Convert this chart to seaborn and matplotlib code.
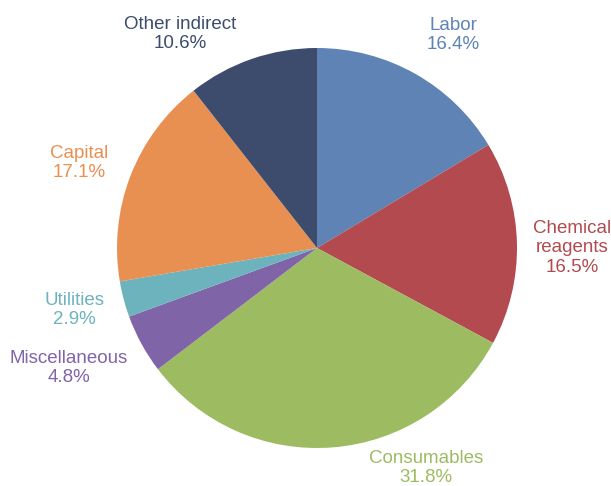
import numpy as np
import pandas as pd
import matplotlib.pyplot as plt
import seaborn as sns

# cost breakdown data
categories = ['Labor', 'Chemical\nreagents', 'Consumables', 'Miscellaneous',
              'Utilities', 'Capital', 'Other indirect']
shares = [16.4, 16.5, 31.8, 4.8, 2.9, 17.1, 10.6]
colors = ['#5F83B5', '#B24A4F', '#9DBB61', '#8064A8', '#6DB3BD', '#E88F52', '#3D4C6C']

df = pd.DataFrame({'category': categories, 'share': shares})

sns.set_style('white')
plt.rcParams['font.family'] = ['Liberation Sans', 'DejaVu Sans']

fig = plt.figure(figsize=(6.11, 4.86), dpi=100)
ax = fig.add_axes([0, 0, 1, 1])

cy = 248  # pie centre, pixels from top
pal = sns.color_palette(colors)
ax.pie(df['share'], colors=pal, startangle=90, counterclock=False,
       radius=200, center=(0, 0), wedgeprops=dict(linewidth=0))

# label centres in pixel offsets from pie centre (x right, y up)
label_pos = [(136, 213), (255, 0), (109, -220), (-248, -120),
             (-243, -62), (-238, 85), (-137, 214)]
for (x, y), cat, val, c in zip(label_pos, df['category'], df['share'], colors):
    ax.text(x, y, f'{cat}\n{val}%', color=c, fontsize=13.5, ha='center',
            va='center', linespacing=1.2)

ax.set_xlim(-317, 611 - 317)
ax.set_ylim(-(486 - cy), cy)
ax.set_aspect('equal')
ax.axis('off')

plt.savefig('out.png', dpi=100)
